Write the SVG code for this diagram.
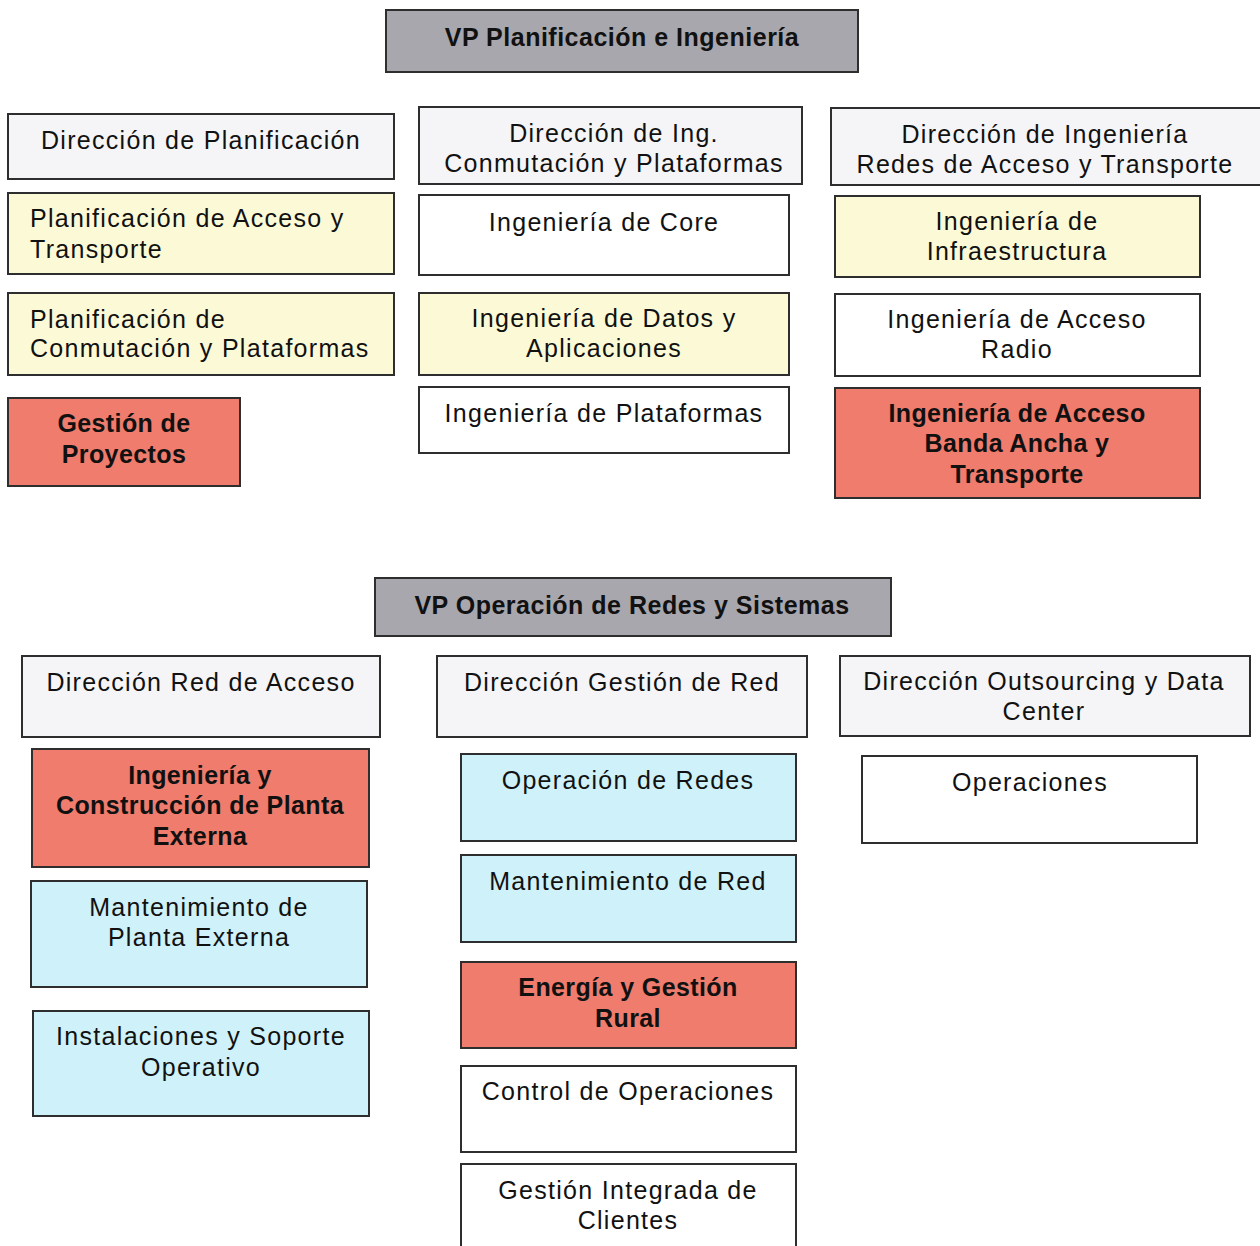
<svg xmlns="http://www.w3.org/2000/svg" width="1260" height="1246" viewBox="0 0 1260 1246">
  <style>
    .box { stroke: #2e2e2e; stroke-width: 2; }
    .vp { fill: #a8a7ad; }
    .dir { fill: #f5f5f7; }
    .white { fill: #ffffff; }
    .yellow { fill: #fcfad6; }
    .red { fill: #ef7c6c; }
    .cyan { fill: #cff1f9; }
    text { font-family: "Liberation Sans", Arial, sans-serif; fill: #111; font-size: 25px; letter-spacing: 1.3px; }
    .c { text-anchor: middle; }
    .b { font-weight: bold; letter-spacing: 0.4px; }
    .t { font-weight: bold; font-size: 25px; letter-spacing: 0.5px; }
  </style>
  <rect width="1260" height="1246" fill="#ffffff"/>

  <!-- Upper chart: VP Planificación e Ingeniería -->
  <g id="vp-planificacion">
    <rect class="box vp" x="386" y="10" width="472" height="62"/>
    <text class="c t" x="622" y="46">VP Planificación e Ingeniería</text>
  </g>

  <g id="dir-planificacion">
    <rect class="box dir" x="8" y="114" width="386" height="65"/>
    <text class="c" x="201" y="149">Dirección de Planificación</text>
  </g>
  <g id="plan-acceso-transporte">
    <rect class="box yellow" x="8" y="193" width="386" height="81"/>
    <text x="30" y="227">Planificación de Acceso y</text>
    <text x="30" y="258">Transporte</text>
  </g>
  <g id="plan-conmutacion">
    <rect class="box yellow" x="8" y="293" width="386" height="82"/>
    <text x="30" y="328">Planificación de</text>
    <text x="30" y="357">Conmutación y Plataformas</text>
  </g>
  <g id="gestion-proyectos">
    <rect class="box red" x="8" y="398" width="232" height="88"/>
    <text class="c b" x="124" y="432">Gestión de</text>
    <text class="c b" x="124" y="463">Proyectos</text>
  </g>

  <g id="dir-ing-conmutacion">
    <rect class="box dir" x="419" y="107" width="383" height="77"/>
    <text class="c" x="614" y="142">Dirección de Ing.</text>
    <text class="c" x="614" y="172">Conmutación y Plataformas</text>
  </g>
  <g id="ing-core">
    <rect class="box white" x="419" y="195" width="370" height="80"/>
    <text class="c" x="604" y="231">Ingeniería de Core</text>
  </g>
  <g id="ing-datos">
    <rect class="box yellow" x="419" y="293" width="370" height="82"/>
    <text class="c" x="604" y="327">Ingeniería de Datos y</text>
    <text class="c" x="604" y="357">Aplicaciones</text>
  </g>
  <g id="ing-plataformas">
    <rect class="box white" x="419" y="387" width="370" height="66"/>
    <text class="c" x="604" y="422">Ingeniería de Plataformas</text>
  </g>

  <g id="dir-ing-redes">
    <rect class="box dir" x="831" y="108" width="440" height="77"/>
    <text class="c" x="1045" y="143">Dirección de Ingeniería</text>
    <text class="c" x="1045" y="173">Redes de Acceso y Transporte</text>
  </g>
  <g id="ing-infraestructura">
    <rect class="box yellow" x="835" y="196" width="365" height="81"/>
    <text class="c" x="1017" y="230">Ingeniería de</text>
    <text class="c" x="1017" y="260">Infraestructura</text>
  </g>
  <g id="ing-acceso-radio">
    <rect class="box white" x="835" y="294" width="365" height="82"/>
    <text class="c" x="1017" y="328">Ingeniería de Acceso</text>
    <text class="c" x="1017" y="358">Radio</text>
  </g>
  <g id="ing-banda-ancha">
    <rect class="box red" x="835" y="388" width="365" height="110"/>
    <text class="c b" x="1017" y="422">Ingeniería de Acceso</text>
    <text class="c b" x="1017" y="452">Banda Ancha y</text>
    <text class="c b" x="1017" y="483">Transporte</text>
  </g>

  <!-- Lower chart: VP Operación de Redes y Sistemas -->
  <g id="vp-operacion">
    <rect class="box vp" x="375" y="578" width="516" height="58"/>
    <text class="c t" x="632" y="614">VP Operación de Redes y Sistemas</text>
  </g>

  <g id="dir-red-acceso">
    <rect class="box dir" x="22" y="656" width="358" height="81"/>
    <text class="c" x="201" y="691">Dirección Red de Acceso</text>
  </g>
  <g id="ing-construccion">
    <rect class="box red" x="32" y="749" width="337" height="118"/>
    <text class="c b" x="200" y="784">Ingeniería y</text>
    <text class="c b" x="200" y="814">Construcción de Planta</text>
    <text class="c b" x="200" y="845">Externa</text>
  </g>
  <g id="mant-planta">
    <rect class="box cyan" x="31" y="881" width="336" height="106"/>
    <text class="c" x="199" y="916">Mantenimiento de</text>
    <text class="c" x="199" y="946">Planta Externa</text>
  </g>
  <g id="instalaciones">
    <rect class="box cyan" x="33" y="1011" width="336" height="105"/>
    <text class="c" x="201" y="1045">Instalaciones y Soporte</text>
    <text class="c" x="201" y="1076">Operativo</text>
  </g>

  <g id="dir-gestion-red">
    <rect class="box dir" x="437" y="656" width="370" height="81"/>
    <text class="c" x="622" y="691">Dirección Gestión de Red</text>
  </g>
  <g id="operacion-redes">
    <rect class="box cyan" x="461" y="754" width="335" height="87"/>
    <text class="c" x="628" y="789">Operación de Redes</text>
  </g>
  <g id="mant-red">
    <rect class="box cyan" x="461" y="855" width="335" height="87"/>
    <text class="c" x="628" y="890">Mantenimiento de Red</text>
  </g>
  <g id="energia">
    <rect class="box red" x="461" y="962" width="335" height="86"/>
    <text class="c b" x="628" y="996">Energía y Gestión</text>
    <text class="c b" x="628" y="1027">Rural</text>
  </g>
  <g id="control-operaciones">
    <rect class="box white" x="461" y="1066" width="335" height="86"/>
    <text class="c" x="628" y="1100">Control de Operaciones</text>
  </g>
  <g id="gestion-clientes">
    <rect class="box white" x="461" y="1164" width="335" height="90"/>
    <text class="c" x="628" y="1199">Gestión Integrada de</text>
    <text class="c" x="628" y="1229">Clientes</text>
  </g>

  <g id="dir-outsourcing">
    <rect class="box dir" x="840" y="656" width="410" height="80"/>
    <text class="c" x="1044" y="690">Dirección Outsourcing y Data</text>
    <text class="c" x="1044" y="720">Center</text>
  </g>
  <g id="operaciones">
    <rect class="box white" x="862" y="756" width="335" height="87"/>
    <text class="c" x="1030" y="791">Operaciones</text>
  </g>

  <!-- no connectors are drawn between the boxes -->
  <g id="connectors"/>
</svg>
